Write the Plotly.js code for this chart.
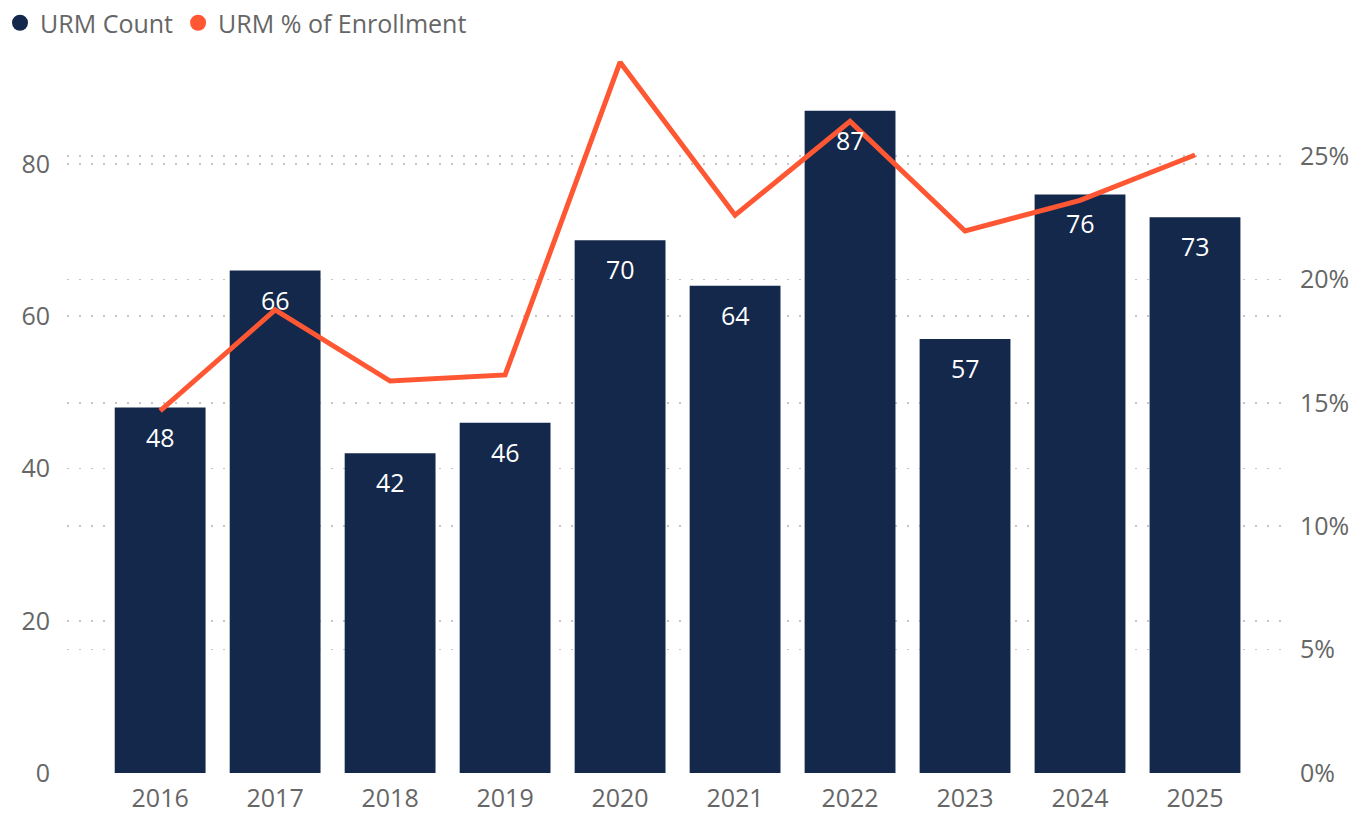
<!DOCTYPE html>
<html>
<head>
<meta charset="utf-8">
<script src="https://cdn.plot.ly/plotly-3.0.1.min.js"></script>
<style>html,body{margin:0;padding:0;background:#fff;}#chart{width:1355px;height:815px;}</style>
</head>
<body>
<div id="chart"></div>
<script>
const years = ['2016','2017','2018','2019','2020','2021','2022','2023','2024','2025'];
const urmCount = [48, 66, 42, 46, 70, 64, 87, 57, 76, 73];
const urmPct = [0.1467, 0.1876, 0.1588, 0.1613, 0.288, 0.226, 0.264, 0.2196, 0.232, 0.2504];

const navy = '#13284B';
const orange = '#FF5733';
const grey = '#666666';
const fontFam = '"Open Sans", "DejaVu Sans", sans-serif';
const fs = 25;

const traces = [
  {
    type: 'bar', x: years, y: urmCount, name: 'URM Count',
    marker: {color: navy}, showlegend: false, hoverinfo: 'x+y'
  },
  {
    type: 'scatter', mode: 'lines', x: years, y: urmPct, yaxis: 'y2',
    name: 'URM % of Enrollment', line: {color: orange, width: 5},
    showlegend: false
  },
  {
    type: 'scatter', mode: 'markers', x: [null], y: [null], name: 'URM Count',
    marker: {color: navy, size: 20, symbol: 'circle'}
  },
  {
    type: 'scatter', mode: 'markers', x: [null], y: [null], name: 'URM % of Enrollment',
    marker: {color: orange, size: 20, symbol: 'circle'}
  }
];

const annotations = urmCount.map((v, i) => ({
  x: i, y: v, xref: 'x', yref: 'y',
  text: String(v), showarrow: false,
  yanchor: 'middle', yshift: -29,
  font: {family: fontFam, size: fs, color: '#ffffff'}
}));

const layout = {
  width: 1355, height: 815,
  margin: {l: 67, r: 68, t: 55, b: 42},
  paper_bgcolor: '#fff', plot_bgcolor: '#fff',
  font: {family: fontFam, size: fs, color: grey},
  bargap: 0.21,
  showlegend: true,
  legend: {
    orientation: 'h', x: -0.002, y: 1, xref: 'container', yref: 'container',
    xanchor: 'left', yanchor: 'top',
    font: {family: fontFam, size: fs, color: grey},
    itemwidth: 30, itemsizing: 'trace', tracegroupgap: 0, traceorder: 'normal',
    bgcolor: 'rgba(0,0,0,0)'
  },
  xaxis: {
    type: 'category', range: [-0.81, 9.8],
    showgrid: false, zeroline: false, showline: false, ticks: '',
    tickfont: {family: fontFam, size: fs, color: grey},
    ticklabelstandoff: 8, automargin: false
  },
  yaxis: {
    range: [0, 94.32], tickvals: [0, 20, 40, 60, 80],
    showgrid: true, gridcolor: '#c4c4c4', griddash: '2px,10px', gridwidth: 1.6,
    zeroline: false, showline: false, ticks: '',
    tickfont: {family: fontFam, size: fs, color: grey},
    ticklabelstandoff: 16, automargin: false
  },
  yaxis2: {
    overlaying: 'y', side: 'right',
    range: [0, 0.2909], tickvals: [0, 0.05, 0.1, 0.15, 0.2, 0.25],
    tickformat: '.0%',
    showgrid: true, gridcolor: '#c4c4c4', griddash: '2px,10px', gridwidth: 1.6,
    zeroline: false, showline: false, ticks: '',
    tickfont: {family: fontFam, size: fs, color: grey},
    ticklabelstandoff: 12, automargin: false
  },
  annotations: annotations
};

Plotly.newPlot('chart', traces, layout, {displayModeBar: false, staticPlot: true});
</script>
</body>
</html>
